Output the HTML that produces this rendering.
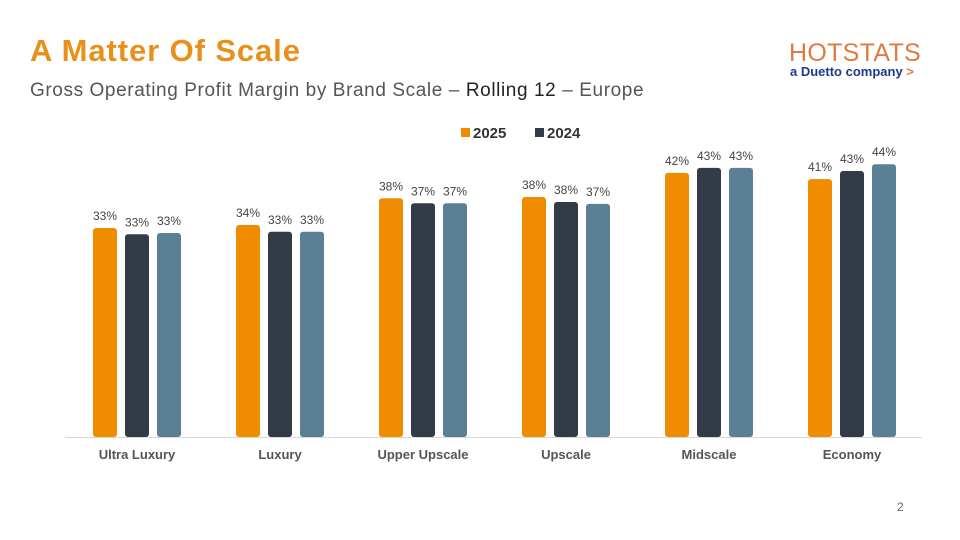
<!DOCTYPE html>
<html><head><meta charset="utf-8">
<style>
body{margin:0;width:960px;height:540px;background:#fff;overflow:hidden;font-family:"Liberation Sans",sans-serif;position:relative}
.t{position:absolute;white-space:nowrap}
</style></head><body>
<div class="t" style="left:30px;top:33px;font-size:31px;font-weight:bold;color:#e8901a;letter-spacing:0.9px">A Matter Of Scale</div>
<div class="t" style="left:30px;top:80px;font-size:19px;color:#555;letter-spacing:0.6px">Gross Operating Profit Margin by Brand Scale – <span style="color:#222">Rolling 12</span> – Europe</div>
<div class="t" style="left:789px;top:39px;font-size:25px;color:#e07a40;letter-spacing:0.3px">HOTSTATS</div>
<div class="t" style="left:790px;top:64px;font-size:13px;font-weight:bold;color:#1f3a8a">a Duetto company <span style="color:#e07a40">&gt;</span></div>
<div class="t" style="left:897px;top:500px;font-size:12px;color:#666">2</div>
<svg id="chart" width="960" height="540" style="position:absolute;left:0;top:0"></svg>
<script>
const categories=["Ultra Luxury","Luxury","Upper Upscale","Upscale","Midscale","Economy"];
const s2025=[33.7,34.2,38.5,38.7,42.6,41.6];
const s2024=[32.7,33.1,37.7,37.9,43.4,42.9];
const s3=[32.9,33.1,37.7,37.6,43.4,44.0];
const l2025=["33%","34%","38%","38%","42%","41%"];
const l2024=["33%","33%","37%","38%","43%","43%"];
const l3=["33%","33%","37%","37%","43%","44%"];
const NS="http://www.w3.org/2000/svg";
const svg=document.getElementById('chart');
const base=437,k=6.2;
const y=v=>base-v*k;
const xc=i=>137+i*143;
function el(t,a){const e=document.createElementNS(NS,t);for(const n in a)e.setAttribute(n,a[n]);svg.appendChild(e);return e;}
const ax=el('line',{x1:65,x2:922,y1:base+0.5,y2:base+0.5,stroke:'#d9d9d9','stroke-width':1});


const series=[[s2025,l2025,'#ef8c00','2025'],[s2024,l2024,'#313c46','2024'],[s3,l3,'#5b7f95','prior']];
categories.forEach((c,i)=>{
  series.forEach((s,j)=>{
    const v=s[0][i],x=xc(i)-44+j*32,top=y(v);
    const r=el('rect',{x:x,y:top,width:24,height:base-top,rx:3,fill:s[2]});
    
    
    const t=el('text',{x:x+12,y:top-8,'text-anchor':'middle','font-size':12,fill:'#444'});
    t.textContent=s[1][i];
    
    
  });
  const cl=el('text',{x:xc(i),y:459,'text-anchor':'middle','font-size':13,'font-weight':'bold',fill:'#555'});
  cl.textContent=c;
  
  
});
[['2025','#ef8c00',461],['2024','#313c46',535]].forEach(([n,col,x])=>{
  const r=el('rect',{x:x,y:128,width:9,height:9,fill:col});
  
  
  const t=el('text',{x:x+12,y:138,'font-size':15,'font-weight':'bold',fill:'#333'});
  t.textContent=n;
  
  
});
</script>
</body></html>
